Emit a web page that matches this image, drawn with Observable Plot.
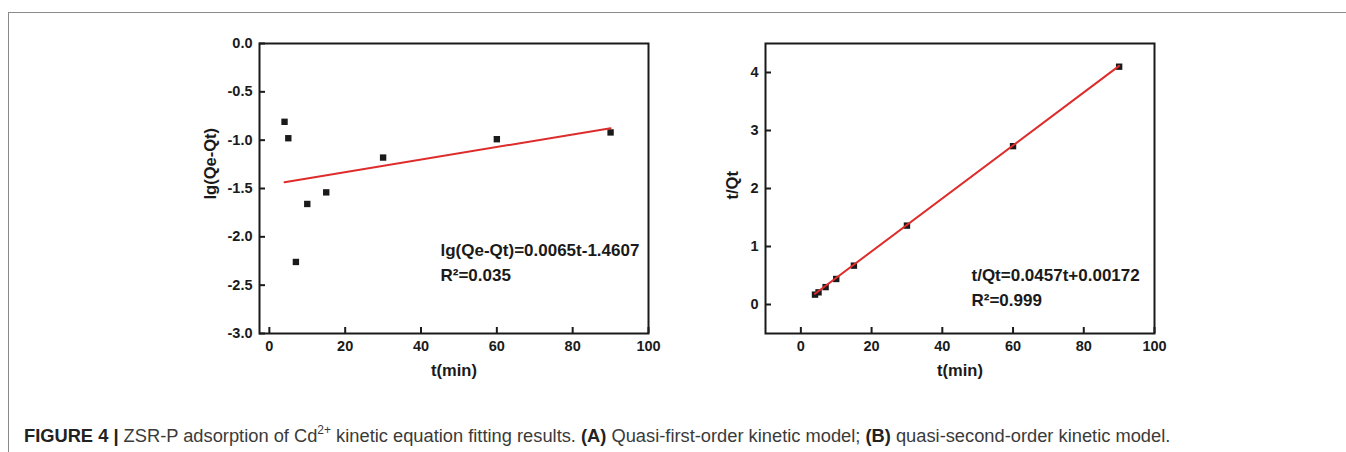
<!DOCTYPE html>
<html>
<head>
<meta charset="utf-8">
<script src="https://cdn.jsdelivr.net/npm/d3@7"></script>
<script src="https://cdn.jsdelivr.net/npm/@observablehq/plot@0.6"></script>
<style>
  html, body { margin: 0; padding: 0; background: #fff; }
  #page { position: relative; width: 1346px; height: 452px; overflow: hidden; background: #fff; }
  #border { position: absolute; left: 8px; top: 12px; right: -4px; bottom: -4px;
            border-top: 1.5px solid #8a8a8a; border-left: 1.5px solid #8a8a8a; }
  .panel { position: absolute; top: 0; }
  #caption { position: absolute; left: 24px; top: 424px; white-space: nowrap;
             font-family: "Liberation Sans", Arial, sans-serif; font-size: 18.3px; color: #3a3a3a; }
  #caption b { font-weight: bold; color: #222; }
  #caption sup { font-size: 12px; position: relative; top: -1px; }
</style>
</head>
<body>
<div id="page">
  <div id="border"></div>
  <div id="panelA" class="panel" style="left:0px"></div>
  <div id="panelB" class="panel" style="left:700px"></div>
  <div id="caption"><b>FIGURE 4 |</b> ZSR-P adsorption of Cd<sup>2+</sup> kinetic equation fitting results. <b>(A)</b> Quasi-first-order kinetic model; <b>(B)</b> quasi-second-order kinetic model.</div>
</div>
<script>
// Contact time (min)
const times = [4, 5, 7, 10, 15, 30, 60, 90];
// Quasi-first-order linearisation: lg(Qe - Qt)
const lgQeQt = [-0.81, -0.98, -2.26, -1.66, -1.54, -1.18, -0.99, -0.92];
// Quasi-second-order linearisation: t/Qt
const tOverQt = [0.17, 0.21, 0.30, 0.44, 0.67, 1.36, 2.73, 4.10];

// Linear fit results (slope, intercept) and their printed equations
const fitA = {slope: 0.0065, intercept: -1.4607};
const fitB = {slope: 0.0457, intercept: 0.00172};
const eqA = ["lg(Qe-Qt)=0.0065t-1.4607", "R²=0.035"];
const eqB = ["t/Qt=0.0457t+0.00172", "R²=0.999"];

// Axis ticks
const xTicks = [0, 20, 40, 60, 80, 100];
const yTicksA = [0, -0.5, -1.0, -1.5, -2.0, -2.5, -3.0];
const yTicksB = [0, 1, 2, 3, 4];

const FONT = "Liberation Sans, Arial, Helvetica, sans-serif";
const RED = "#de2b2b";
const INK = "#1a1a1a";

const ptsA = times.map((t, i) => ({t, v: lgQeQt[i]}));
const ptsB = times.map((t, i) => ({t, v: tOverQt[i]}));
const fitLine = (fit) => d3.extent(times).map(t => ({t, v: fit.slope * t + fit.intercept}));

const HEIGHT = 400, M_TOP = 43, M_BOTTOM = 67, TICK = 6;

function panel({pts, fit, eq, xDomain, yDomain, yTicks, yFmt, yLabel, yLabelDx, eqDx, eqDy, width, marginLeft, marginRight}) {
  const innerW = width - marginLeft - marginRight;
  const innerH = HEIGHT - M_TOP - M_BOTTOM;
  const tickLabels = {tickSize: 0, tickPadding: 7, fontSize: 14.5, fontWeight: "bold", label: null};
  return Plot.plot({
    width, height: HEIGHT,
    marginLeft, marginRight, marginTop: M_TOP, marginBottom: M_BOTTOM,
    style: {fontFamily: FONT, color: INK, background: "transparent", overflow: "visible"},
    x: {domain: xDomain},
    y: {domain: yDomain},
    marks: [
      Plot.axisX(xTicks, {...tickLabels, anchor: "bottom"}),
      Plot.axisY(yTicks, {...tickLabels, anchor: "left", tickFormat: yFmt}),
      Plot.dot(pts, {x: "t", y: "v", symbol: "square", r: 3.6, fill: INK, stroke: null}),
      Plot.line(fitLine(fit), {x: "t", y: "v", stroke: RED, strokeWidth: 2}),
      Plot.frame({stroke: INK, strokeWidth: 2}),
      // short inward ticks along the bottom and left edges of the frame
      Plot.ruleX(xTicks, {x: d => d, insetTop: innerH - TICK, stroke: INK, strokeWidth: 2}),
      Plot.ruleY(yTicks, {y: d => d, insetRight: innerW - TICK, stroke: INK, strokeWidth: 2}),
      Plot.text([yLabel], {frameAnchor: "left", dx: yLabelDx, dy: 11, rotate: -90, fontSize: 16.5, fontWeight: "bold"}),
      Plot.text(["t(min)"], {frameAnchor: "bottom", dy: 42, fontSize: 16.5, fontWeight: "bold"}),
      Plot.text([eq[0]], {frameAnchor: "top-left", textAnchor: "start", dx: eqDx, dy: eqDy, fontSize: 17, fontWeight: "bold"}),
      Plot.text([eq[1]], {frameAnchor: "top-left", textAnchor: "start", dx: eqDx, dy: eqDy + 25, fontSize: 17, fontWeight: "bold"})
    ]
  });
}

document.getElementById("panelA").append(panel({
  pts: ptsA, fit: fitA, eq: eqA,
  xDomain: [-2.6, 100], yDomain: [-3, 0], yTicks: yTicksA,
  yFmt: d => d.toFixed(1), yLabel: "lg(Qe-Qt)", yLabelDx: -49,
  eqDx: 181, eqDy: 200,
  width: 700, marginLeft: 259, marginRight: 52
}));

document.getElementById("panelB").append(panel({
  pts: ptsB, fit: fitB, eq: eqB,
  xDomain: [-10, 100], yDomain: [-0.5, 4.5], yTicks: yTicksB,
  yFmt: d => String(d), yLabel: "t/Qt", yLabelDx: -33,
  eqDx: 206, eqDy: 225,
  width: 646, marginLeft: 65, marginRight: 192
}));
</script>
</body>
</html>
